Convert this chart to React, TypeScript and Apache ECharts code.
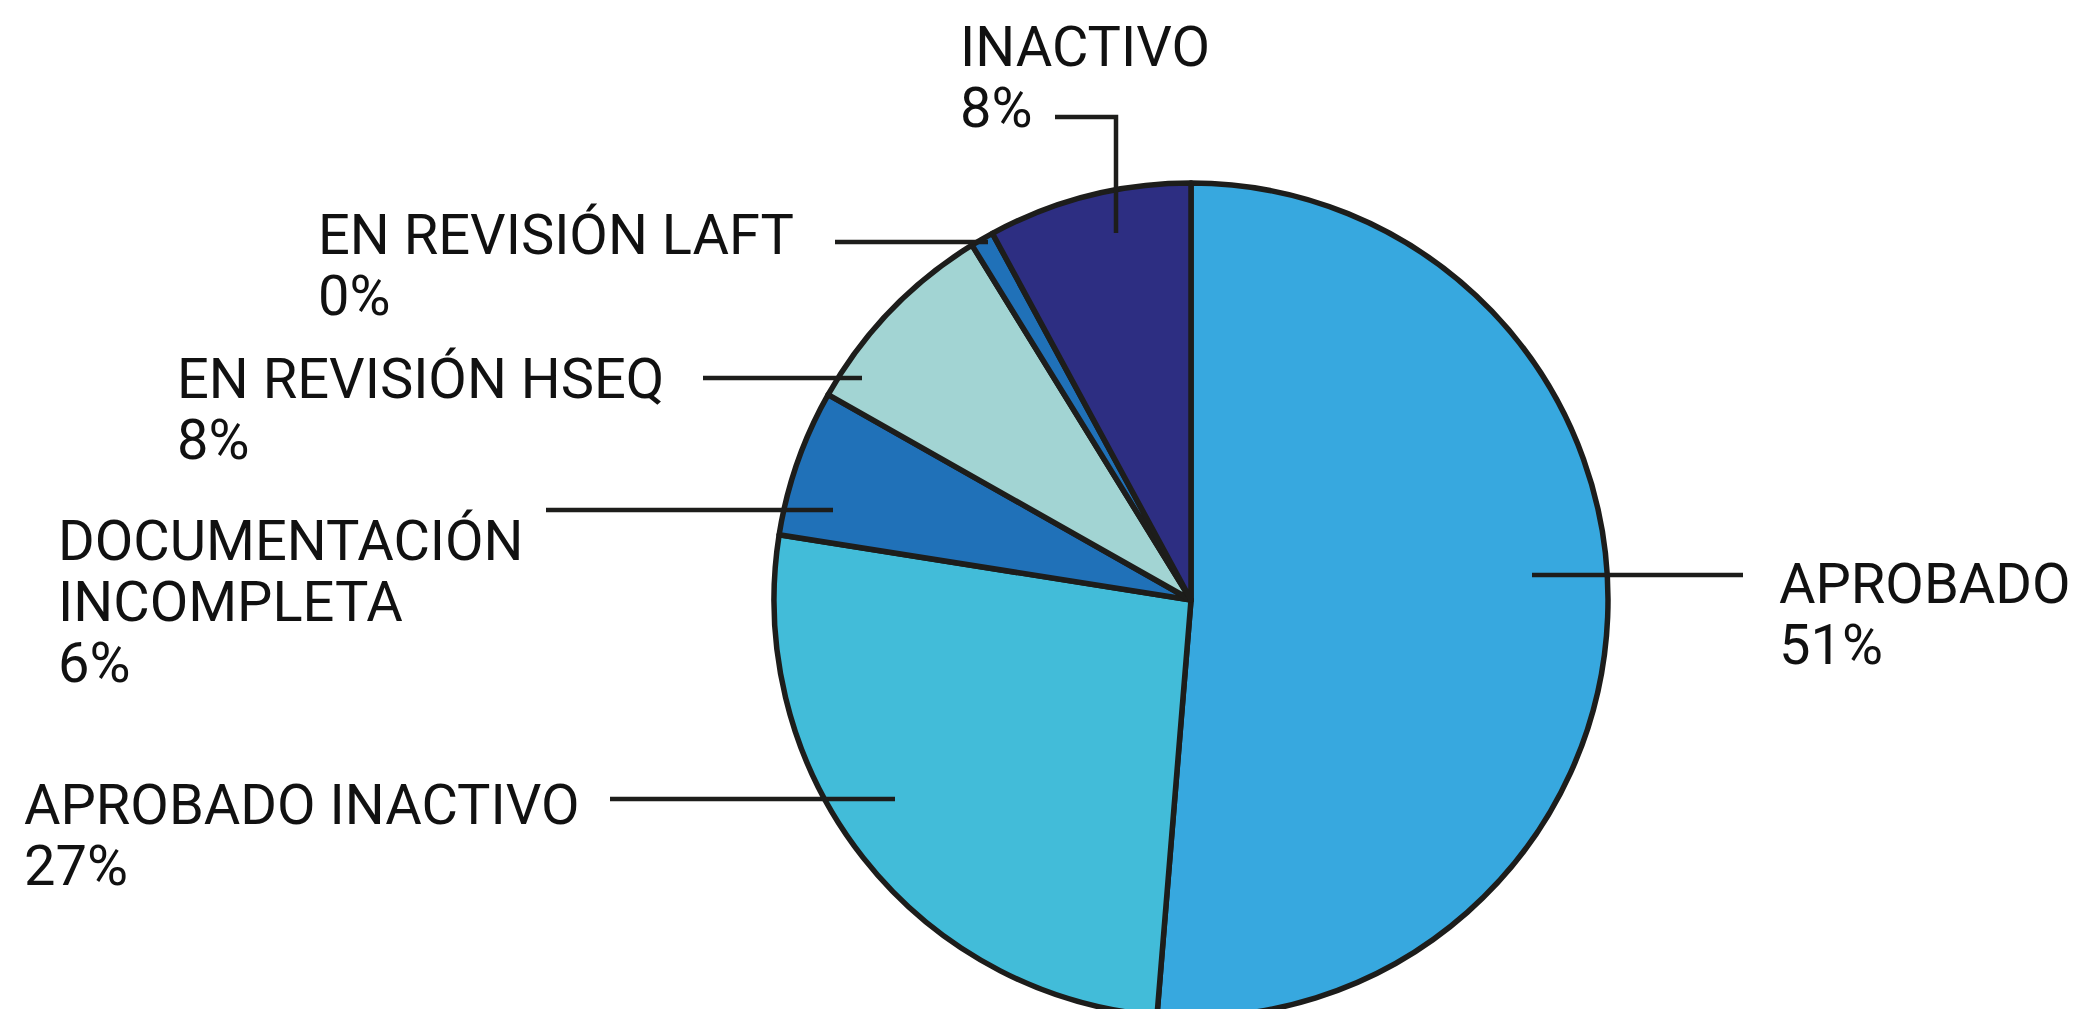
import React, { useEffect, useRef } from 'react';
import * as echarts from 'echarts';

// ---- data ----
const categories = [
  'APROBADO',
  'APROBADO INACTIVO',
  'DOCUMENTACIÓN INCOMPLETA',
  'EN REVISIÓN HSEQ',
  'EN REVISIÓN LAFT',
  'INACTIVO',
];
const values = [51.3, 26.2, 5.7, 8.0, 0.9, 7.9];
const percentLabels = ['51%', '27%', '6%', '8%', '0%', '8%'];
const displayNames = [
  'APROBADO',
  'APROBADO INACTIVO',
  'DOCUMENTACIÓN\nINCOMPLETA',
  'EN REVISIÓN HSEQ',
  'EN REVISIÓN LAFT',
  'INACTIVO',
];

// ---- styles / layout ----
const colors = ['#37a8df', '#42bcd9', '#2071b8', '#a2d4d3', '#2071b8', '#2d2e82'];
const labelAnchors: number[][] = [
  [1779, 553],
  [24, 774],
  [58, 510],
  [177, 348],
  [318, 204],
  [960, 16],
];
const leaderLines: number[][][] = [
  [[1532, 575], [1743, 575]],
  [[895, 799], [610, 799]],
  [[833, 510], [546, 510]],
  [[862, 378], [703, 378]],
  [[988, 242], [835, 242]],
  [[1116, 233], [1116, 117], [1055, 117]],
];

export default function App() {
  const ref = useRef<HTMLDivElement>(null);
  useEffect(() => {
    if (!ref.current) return;
    const chart = echarts.init(ref.current, null, { renderer: 'svg' });
    chart.setOption({
      animation: false,
      backgroundColor: '#ffffff',
      graphic: leaderLines.map((pts) => ({
        type: 'polyline',
        z: 100,
        silent: true,
        shape: { points: pts },
        style: { stroke: '#1d1d1b', lineWidth: 4.5, fill: null, lineJoin: 'miter', lineCap: 'butt' },
      })),
      series: [
        {
          type: 'pie',
          center: [1191, 600],
          radius: 417,
          startAngle: 90,
          clockwise: true,
          avoidLabelOverlap: false,
          silent: true,
          emphasis: { disabled: true },
          itemStyle: {
            borderColor: '#1d1d1b',
            borderWidth: 5.5,
            borderJoin: 'round',
          },
          label: {
            show: true,
            position: 'outside',
            fontFamily: 'Roboto',
            fontSize: 56,
            fontWeight: 'normal',
            lineHeight: 61,
            color: '#111111',
            formatter: (p: any) => `${displayNames[p.dataIndex]}\n${percentLabels[p.dataIndex]}`,
          },
          labelLine: { show: false },
          labelLayout: (params: any) => {
            const i = params.dataIndex;
            return {
              x: labelAnchors[i][0],
              y: labelAnchors[i][1],
              align: 'left',
              verticalAlign: 'top',
            };
          },
          data: categories.map((name, i) => ({
            name,
            value: values[i],
            itemStyle: { color: colors[i] },
          })),
        },
      ],
    });
    return () => chart.dispose();
  }, []);
  return (
    <div
      ref={ref}
      style={{ position: 'fixed', left: 0, top: 0, width: 2089, height: 1009, background: '#fff' }}
    />
  );
}
